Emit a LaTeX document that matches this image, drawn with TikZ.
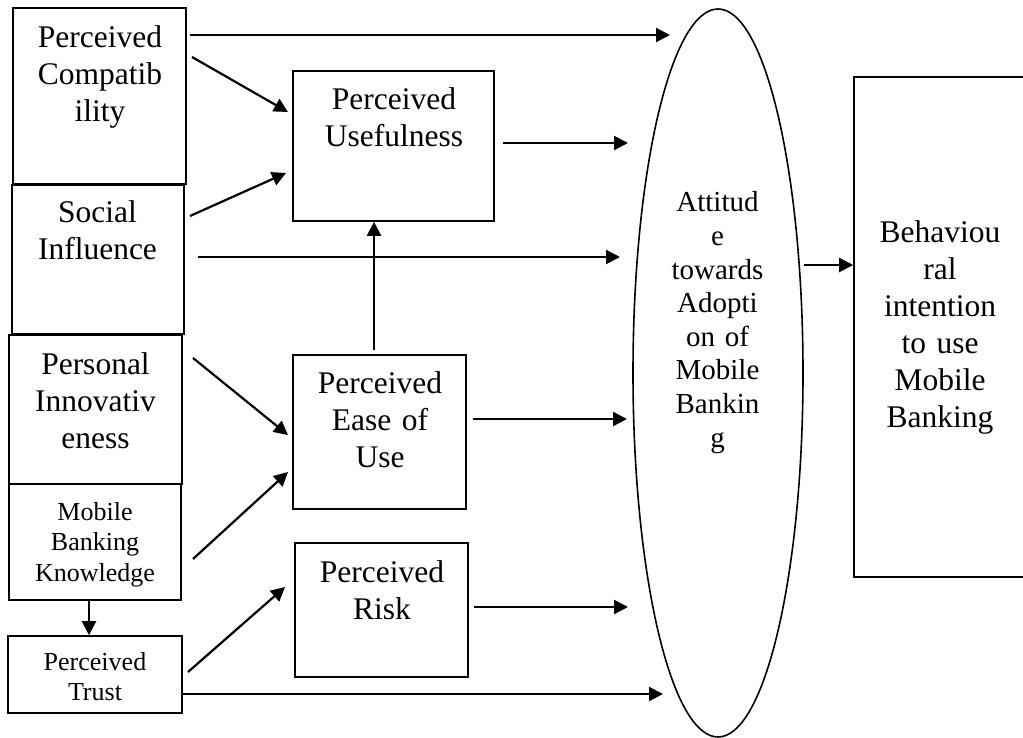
\documentclass[tikz,border=0pt]{standalone}
\usepackage{fontspec}
\setmainfont{Liberation Serif}
\usetikzlibrary{arrows.meta,shapes.geometric}
\begin{document}
\begin{tikzpicture}[x=1pt,y=-1pt,
 box/.style={draw, line width=1.6pt, rectangle, inner sep=0pt},
 lbl/.style={anchor=base, align=center, text width=172pt, inner sep=0pt, font=\fontsize{31.5}{37}\selectfont},
 slbl/.style={lbl, font=\fontsize{26}{30.5}\selectfont},
 elbl/.style={lbl, font=\fontsize{29}{33.6}\selectfont},
 arr/.style={line width=2.2pt, -{Triangle[length=14pt,width=14pt]}}]
\useasboundingbox (0,0) rectangle (1023,738);
\clip (0,0) rectangle (1023,738);
% left boxes
\node[box, minimum width=173pt, minimum height=176pt] (pc) at (99.5,96) {};
\node[box, minimum width=172pt, minimum height=149pt] (si) at (98,259.5) {};
\node[box, minimum width=173pt, minimum height=149pt] (pi) at (95.5,409.5) {};
\node[box, minimum width=172pt, minimum height=116pt] (mbk) at (95,542) {};
\node[box, minimum width=174pt, minimum height=77pt] (pt) at (95,674.5) {};
% middle boxes
\node[box, minimum width=201pt, minimum height=150pt] (pu) at (393.5,146) {};
\node[box, minimum width=173pt, minimum height=154pt] (peou) at (379.5,432) {};
\node[box, minimum width=173pt, minimum height=134pt] (pr) at (381.5,610) {};
% ellipse and right box
\node[draw, ellipse, line width=1.6pt, minimum width=170pt, minimum height=728pt, inner sep=0pt] (att) at (718,373) {};
\node[box, minimum width=176pt, minimum height=500pt] (bi) at (942,327) {};
% labels
\node[lbl] (pcl) at (100,48) {Perceived\\Compatib\\ility};
\node[lbl] (sil) at (97.5,223) {Social\\Influence};
\node[lbl] (pil) at (95.5,374) {Personal\\Innovativ\\eness};
\node[slbl] (mbkl) at (95,520) {Mobile\\Banking\\Knowledge};
\node[slbl] (ptl) at (95,670) {Perceived\\Trust};
\node[lbl] (pul) at (394,110) {Perceived\\Usefulness};
\node[lbl] (peoul) at (380,393) {Perceived\\Ease of\\Use};
\node[lbl] (prl) at (382,582) {Perceived\\Risk};
\node[elbl] (attl) at (717.5,212) {Attitud\\e\\towards\\Adopti\\on of\\Mobile\\Bankin\\g};
\node[lbl] (bil) at (940,243) {Behaviou\\ral\\intention\\to use\\Mobile\\Banking};
% connector ends
\coordinate (e1) at (670,35);
\coordinate (e2) at (620,257);
\coordinate (e3) at (628,143);
\coordinate (e4) at (627,419);
\coordinate (e5) at (628,607);
\coordinate (e6) at (663,694);
% connectors
\draw[arr] (190,35) -- (e1);
\draw[arr] (192,57) -- (288,112);
\draw[arr] (190,216) -- (286,173);
\draw[arr] (198,257) -- (e2);
\draw[arr] (503,143) -- (e3);
\draw[arr] (374,350) -- (pu.south -| 374,0);
\draw[arr] (193,358) -- (288,435);
\draw[arr] (193,559) -- (288,472);
\draw[arr] (473,419) -- (e4);
\draw[arr] (mbk.south -| 89,0) -- (pt.north -| 89,0);
\draw[arr] (188,672) -- (285,587);
\draw[arr] (474,607) -- (e5);
\draw[arr] (183,694) -- (e6);
\draw[arr] (att.east |- 0,265) -- (bi.west |- 0,265);
\end{tikzpicture}
\end{document}
